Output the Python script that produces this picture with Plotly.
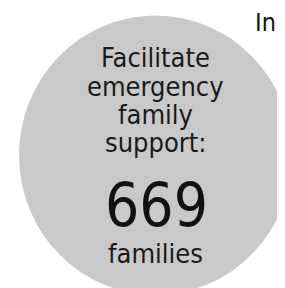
import plotly.graph_objects as go

# Data
label_lines = ["Facilitate", "emergency", "family", "support:"]
values = [669]
units = ["families"]
cut_text = ["In"]

W, H = 285, 288
FONT = "DejaVu Sans Condensed, DejaVu Sans"

fig = go.Figure()
fig.add_trace(go.Scatter(x=[0, W], y=[0, H], mode="markers", marker=dict(opacity=0), hoverinfo="skip", showlegend=False))

# circle
fig.add_shape(type="circle", xref="x", yref="y", x0=11, x1=284, y0=7.5, y1=287,
              fillcolor="#c9c9c9", line=dict(width=0), layer="below")

line_y = [49, 78, 106, 134]
for t, yy in zip(label_lines, line_y):
    fig.add_annotation(x=147, y=yy, xref="x", yref="y", text=t, showarrow=False,
                       font=dict(family=FONT, size=27, color="#1a1a1a"), xanchor="center", yanchor="middle")

fig.add_annotation(x=148, y=197, xref="x", yref="y", text=str(values[0]), showarrow=False,
                   font=dict(family=FONT, size=60, color="#111111"), xanchor="center", yanchor="middle")
fig.add_annotation(x=147, y=245, xref="x", yref="y", text=units[0], showarrow=False,
                   font=dict(family=FONT, size=27, color="#1a1a1a"), xanchor="center", yanchor="middle")
fig.add_annotation(x=245 / W, y=1.008, xref="paper", yref="paper", text=cut_text[0], showarrow=False,
                   font=dict(family=FONT, size=25, color="#111111"), xanchor="left", yanchor="top")

fig.update_layout(width=W, height=H, margin=dict(l=0, r=0, t=0, b=0),
                  paper_bgcolor="white", plot_bgcolor="white",
                  xaxis=dict(range=[0, W], visible=False, fixedrange=True),
                  yaxis=dict(range=[H, 0], visible=False, fixedrange=True),
                  showlegend=False)
fig.write_html("out.html", config={"displayModeBar": False})
